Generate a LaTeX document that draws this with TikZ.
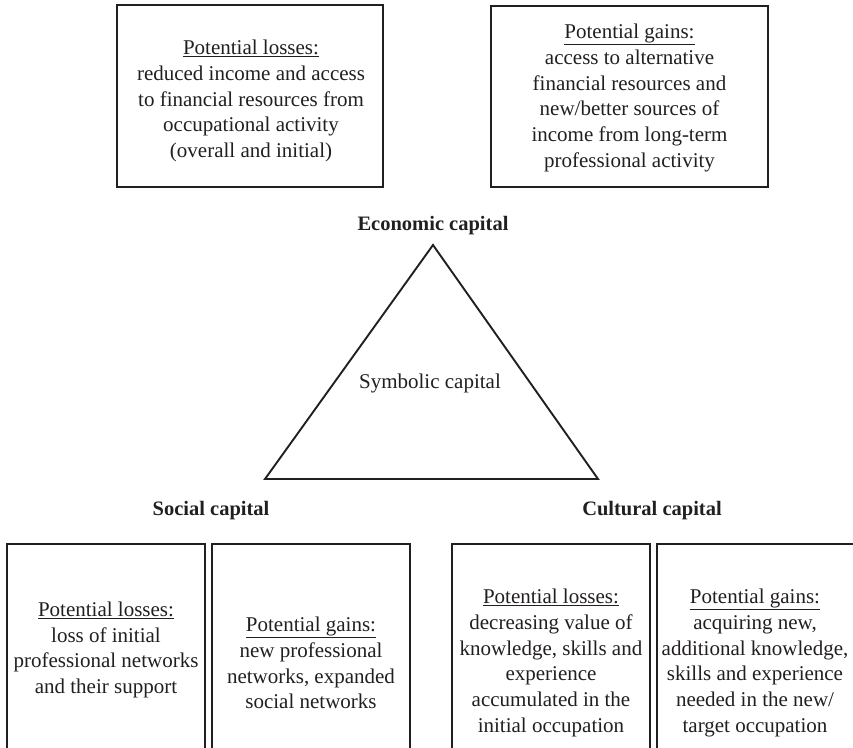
\documentclass[tikz,border=0pt]{standalone}
\usepackage{fontspec}
\setmainfont{Liberation Serif}
\definecolor{ink}{HTML}{231F20}
\begin{document}
\begin{tikzpicture}[x=1pt,y=-1pt,
  frame/.style={draw=ink,line width=2.7pt},
  boxtext/.style={align=center,inner sep=0pt,text=ink,
    font=\fontsize{21pt}{25.8pt}\selectfont},
  heading/.style={anchor=base,inner sep=0pt,text=ink,
    font=\fontsize{20.5pt}{24pt}\selectfont\bfseries},
  tri/.style={draw=ink,line width=1.9pt,line join=miter}]
\clip (0,0) rectangle (853,747);
\fill[white] (0,0) rectangle (853,747);

% economic capital: losses and gains
\draw[frame] (117,5) rectangle (383,187);
\node[boxtext] (econLoss) at (251,101)
  {\underline{Potential losses:}\\reduced income and access\\to financial resources from\\occupational activity\\(overall and initial)};
\draw[frame] (491,6) rectangle (768,187);
\node[boxtext] (econGain) at (629.5,98)
  {\underline{Potential gains:}\\access to alternative\\financial resources and\\new/better sources of\\income from long-term\\professional activity};

% the triangle of capitals
\node[heading] (econ) at (433,230) {Economic capital};
\coordinate (apex) at (433,245);
\coordinate (baseL) at (265,479);
\coordinate (baseR) at (598,479);
\draw[tri] (apex) -- (baseR) -- (baseL) -- cycle;
\node[anchor=base,inner sep=0pt,text=ink,font=\fontsize{21pt}{24pt}\selectfont]
  (symb) at (430,388) {Symbolic capital};

\node[heading] (social) at (211,515) {Social capital};
\node[heading] (cultural) at (652,515) {Cultural capital};

% social capital boxes (open towards the bottom edge)
\draw[frame] (7,770) -- (7,544) -- (205,544) -- (205,770);
\node[boxtext] (socLoss) at (106,650)
  {\underline{Potential losses:}\\loss of initial\\professional networks\\and their support};
\draw[frame] (212,770) -- (212,544) -- (410,544) -- (410,770);
\node[boxtext] (socGain) at (311,663)
  {\underline{Potential gains:}\\new professional\\networks, expanded\\social networks};

% cultural capital boxes
\draw[frame] (452,770) -- (452,544) -- (650,544) -- (650,770);
\node[boxtext] (culLoss) at (551,663)
  {\underline{Potential losses:}\\decreasing value of\\knowledge, skills and\\experience\\accumulated in the\\initial occupation};
\draw[frame] (657,770) -- (657,544) -- (870,544);
\node[boxtext] (culGain) at (755,663)
  {\underline{Potential gains:}\\acquiring new,\\additional knowledge,\\skills and experience\\needed in the new/\\target occupation};
\end{tikzpicture}
\end{document}
